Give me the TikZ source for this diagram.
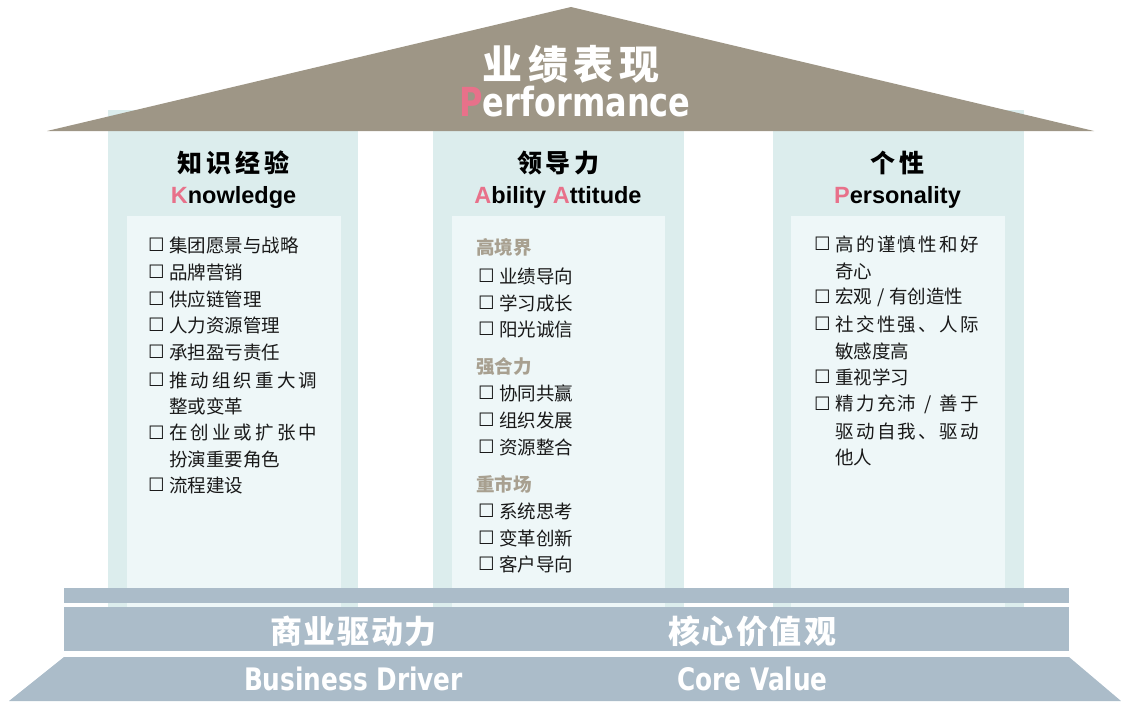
\documentclass[tikz,border=0pt]{standalone}
\usepackage{fontspec}
\newfontfamily\cjk{Noto Sans CJK SC}
\newfontfamily\sym{DejaVu Sans}
\newfontfamily\lat{Liberation Sans}
\newfontfamily\imp[FakeStretch=0.8]{DejaVu Sans}
\definecolor{roofc}{RGB}{158,150,134}
\definecolor{colout}{RGB}{220,237,237}
\definecolor{colin}{RGB}{238,247,248}
\definecolor{basec}{RGB}{171,188,201}
\definecolor{pinkc}{RGB}{232,113,138}
\definecolor{subc}{RGB}{168,160,144}
\definecolor{txtc}{RGB}{25,25,25}
\tikzset{
  item/.style={anchor=west, inner sep=0pt, text=txtc, font=\cjk\fontsize{18.5}{20}\selectfont},
  boxs/.style={anchor=west, inner sep=0pt, text=txtc, font=\sym\fontsize{18.5}{20}\selectfont},
  subh/.style={anchor=west, inner sep=0pt, text=subc, font=\cjk\bfseries\fontsize{18.5}{20}\selectfont},
  headcjk/.style={inner sep=0pt, text=black, font=\cjk\bfseries\fontsize{25}{26}\selectfont},
  headlat/.style={anchor=base, inner sep=0pt, text=black, font=\lat\bfseries\fontsize{23.5}{26}\selectfont},
  roofcjk/.style={inner sep=0pt, text=white, font=\cjk\bfseries\fontsize{40}{42}\selectfont},
  rooflat/.style={anchor=base, inner sep=0pt, text=white, font=\imp\bfseries\fontsize{40}{42}\selectfont},
  basecjk/.style={inner sep=0pt, text=white, font=\cjk\bfseries\fontsize{32}{34}\selectfont},
  baselat/.style={anchor=base, inner sep=0pt, text=white, font=\imp\bfseries\fontsize{31}{33}\selectfont},
}
\newcommand\itm[5]{\node[boxs] (#1b) at (#2,#4) {☐}; \node[item] (#1) at (#3,#4) {#5};}
\begin{document}
\begin{tikzpicture}[x=1pt,y=-1pt]
\path[use as bounding box] (0,0) rectangle (1121,701);
% columns
\fill[colout] (108,110) rectangle (358,607);
\fill[colin] (127,216) rectangle (341,607);
\fill[colout] (433,110) rectangle (684,607);
\fill[colin] (452,216) rectangle (665,607);
\fill[colout] (773,110) rectangle (1024,607);
\fill[colin] (791,216) rectangle (1005,607);
% roof
\fill[roofc] (47,131) -- (571,7) -- (1094,131) -- cycle;
\node[roofcjk] (rt1) at (571,64.5) {\makebox[177pt][s]{业\hfill 绩\hfill 表\hfill 现}};
\node[rooflat] (rt2) at (575,116) {{\color{pinkc}P}erformance};
% base
\fill[basec] (64,588) rectangle (1069,603);
\fill[basec] (64,607) rectangle (1069,651);
\fill[basec] (64,657) -- (1069,657) -- (1121,701) -- (9,701) -- cycle;
\node[basecjk] (bt1) at (353.5,631) {\makebox[167pt][s]{商\hfill 业\hfill 驱\hfill 动\hfill 力}};
\node[basecjk] (bt2) at (752,631) {\makebox[168pt][s]{核\hfill 心\hfill 价\hfill 值\hfill 观}};
\node[baselat] (bt3) at (353.5,690) {Business Driver};
\node[baselat] (bt4) at (752.5,690) {Core Value};
% headings
\node[headcjk] (h1) at (233,163) {\makebox[112pt][s]{知\hfill 识\hfill 经\hfill 验}};
\node[headlat] (e1) at (233.5,203) {{\color{pinkc}K}nowledge};
\node[headcjk] (h2) at (558,163) {\makebox[82pt][s]{领\hfill 导\hfill 力}};
\node[headlat] (e2) at (558,203) {{\color{pinkc}A}bility {\color{pinkc}A}ttitude};
\node[headcjk] (h3) at (897,163) {\makebox[54pt][s]{个\hfill 性}};
\node[headlat] (e3) at (897.5,203) {{\color{pinkc}P}ersonality};
% left items
\itm{k1}{148}{169}{245}{集团愿景与战略}
\itm{k2}{148}{169}{272}{品牌营销}
\itm{k3}{148}{169}{299}{供应链管理}
\itm{k4}{148}{169}{325}{人力资源管理}
\itm{k5}{148}{169}{352}{承担盈亏责任}
\itm{k6}{148}{169}{380}{\makebox[148pt][s]{推\hfill 动\hfill 组\hfill 织\hfill 重\hfill 大\hfill 调}}
\node[item] (k6c) at (169,406) {整或变革};
\itm{k7}{148}{169}{433}{\makebox[148pt][s]{在\hfill 创\hfill 业\hfill 或\hfill 扩\hfill 张\hfill 中}}
\node[item] (k7c) at (169,459) {扮演重要角色};
\itm{k8}{148}{169}{485}{流程建设}
% middle items
\node[subh] (s1) at (476,247) {高境界};
\itm{a1}{478}{499}{276}{业绩导向}
\itm{a2}{478}{499}{303}{学习成长}
\itm{a3}{478}{499}{329}{阳光诚信}
\node[subh] (s2) at (476,367) {强合力};
\itm{a4}{478}{499}{393}{协同共赢}
\itm{a5}{478}{499}{420}{组织发展}
\itm{a6}{478}{499}{447}{资源整合}
\node[subh] (s3) at (476,484) {重市场};
\itm{a7}{478}{499}{511}{系统思考}
\itm{a8}{478}{499}{538}{变革创新}
\itm{a9}{478}{499}{564}{客户导向}
% right items
\itm{p1}{814}{835}{244}{\makebox[144pt][s]{高\hfill 的\hfill 谨\hfill 慎\hfill 性\hfill 和\hfill 好}}
\node[item] (p1c) at (835,271) {奇心};
\itm{p2}{814}{835}{297}{宏观\hspace{5pt}/\hspace{5pt}有创造性}
\itm{p3}{814}{835}{324}{\makebox[144pt][s]{社\hfill 交\hfill 性\hfill 强\hfill 、\hfill 人\hfill 际}}
\node[item] (p3c) at (835,351) {敏感度高};
\itm{p4}{814}{835}{377}{重视学习}
\itm{p5}{814}{835}{404}{\makebox[144pt][s]{精\hfill 力\hfill 充\hfill 沛\hfill \makebox[18.5pt]{/}\hfill 善\hfill 于}}
\node[item] (p5c) at (835,431) {\makebox[144pt][s]{驱\hfill 动\hfill 自\hfill 我\hfill 、\hfill 驱\hfill 动}};
\node[item] (p5d) at (835,457) {他人};
\end{tikzpicture}
\end{document}
